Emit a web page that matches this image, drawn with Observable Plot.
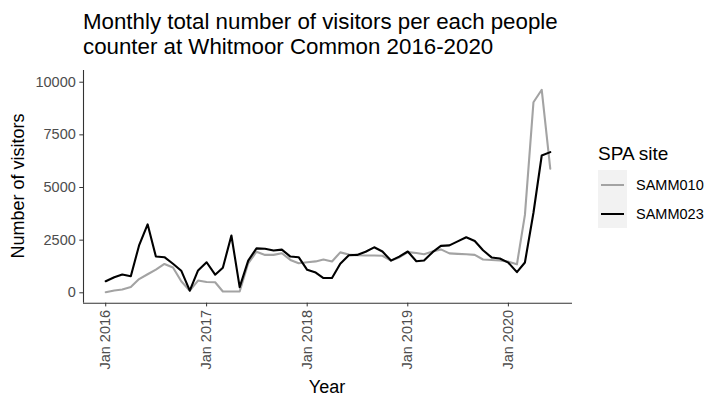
<!DOCTYPE html>
<html>
<head>
<meta charset="utf-8">
<script src="https://cdn.jsdelivr.net/npm/d3@7"></script>
<script src="https://cdn.jsdelivr.net/npm/@observablehq/plot@0.6"></script>
<style>
  body { margin: 0; background: #fff; font-family: "Liberation Sans", Arial, sans-serif; }
  #wrap { position: relative; width: 707px; height: 396px; overflow: hidden; background: #fff; }
  #title { position: absolute; left: 83px; top: 9px; font-size: 22.3px; line-height: 25px; color: #000; white-space: nowrap; }
  #chart { position: absolute; left: 0; top: 64px; }
  #ylab { position: absolute; left: 18px; top: 186px; transform: translate(-50%, -50%) rotate(-90deg); font-size: 18px; color: #000; white-space: nowrap; }
  #xlab { position: absolute; left: 327px; top: 377px; transform: translateX(-50%); font-size: 18px; color: #000; white-space: nowrap; }
  #legend { position: absolute; left: 598px; top: 143px; color: #000; }
  #legend .lt { font-size: 19px; line-height: 22px; margin-bottom: 5px; }
  #legend .row { display: flex; align-items: center; height: 29px; }
  #legend .key { width: 29px; height: 29px; background: #F2F2F2; display: flex; align-items: center; justify-content: center; }
  #legend .key span { display: block; width: 23px; height: 2px; }
  #legend .lab { font-size: 14.5px; margin-left: 9px; }
</style>
</head>
<body>
<div id="wrap">
  <div id="title">Monthly total number of visitors per each people<br>counter at Whitmoor Common 2016-2020</div>
  <div id="chart"></div>
  <div id="ylab">Number of visitors</div>
  <div id="xlab">Year</div>
  <div id="legend"></div>
</div>
<script>
// ---- data (monthly, Jan 2016 .. Jun 2020) ----
const startYear = 2016;
const nMonths = 54;
const sites = ["SAMM010", "SAMM023"];
const siteColors = ["#A3A3A3", "#000000"];
const samm010 = [30, 110, 160, 270, 650, 880, 1100, 1370, 1200, 550, 100, 580,
                 510, 500, 60, 60, 60, 1400, 1950, 1800, 1800, 1880, 1560, 1400,
                 1450, 1490, 1580, 1490, 1920, 1820, 1780, 1770, 1770, 1760, 1530, 1680,
                 1930, 1890, 1830, 1960, 2060, 1870, 1850, 1830, 1800, 1580, 1560, 1530,
                 1480, 1350, 3700, 9050, 9640, 5890];
const samm023 = [550, 740, 870, 790, 2250, 3250, 1720, 1690, 1380, 1050, 100, 1060,
                 1450, 860, 1190, 2720, 270, 1530, 2110, 2090, 2010, 2050, 1720, 1690,
                 1090, 960, 700, 700, 1380, 1780, 1800, 1950, 2160, 1960, 1530, 1720,
                 1960, 1500, 1530, 1930, 2230, 2250, 2440, 2640, 2460, 2020, 1680, 1630,
                 1430, 980, 1440, 3800, 6520, 6680];
const yTicks = [0, 2500, 5000, 7500, 10000];
const xTickYears = [2016, 2017, 2018, 2019, 2020];

// ---- build table ----
const dates = d3.range(nMonths).map(i => new Date(Date.UTC(startYear, i, 1)));
const rows = [];
[samm010, samm023].forEach((vals, s) => {
  vals.forEach((v, i) => rows.push({date: dates[i], value: v, site: sites[s]}));
});

// ggplot-like 5% expansion
const d0 = dates[0], d1 = dates[dates.length - 1];
const span = d1 - d0;
const xDomain = [new Date(+d0 - 0.05 * span), new Date(+d1 + 0.05 * span)];
const yDomain = [-494, 10556];

const chart = Plot.plot({
  width: 707,
  height: 332,
  marginTop: 6,
  marginLeft: 83,
  marginRight: 135,
  marginBottom: 93.3,
  style: { fontFamily: "'Liberation Sans', Arial, sans-serif", background: "transparent" },
  x: { type: "utc", domain: xDomain },
  y: { domain: yDomain },
  color: { domain: sites, range: siteColors },
  marks: [
    Plot.line(rows, { x: "date", y: "value", stroke: "site", z: "site", strokeWidth: 2.1, strokeLinejoin: "round" }),
    Plot.ruleX([xDomain[0]], { stroke: "#333", strokeWidth: 1.1 }),
    Plot.ruleY([yDomain[0]], { stroke: "#333", strokeWidth: 1.1 }),
    Plot.axisY({ ticks: yTicks, tickSize: 3.7, tickPadding: 4, fontSize: 14.5, fill: "#4D4D4D", stroke: "#333", label: null, tickFormat: d => String(d) }),
    Plot.axisX({ ticks: xTickYears.map(y => new Date(Date.UTC(y, 0, 1))), tickSize: 3.7, tickPadding: 3, tickRotate: -90,
                 fontSize: 14.5, fill: "#4D4D4D", stroke: "#333", label: null, tickFormat: d => "Jan " + d.getUTCFullYear() })
  ]
});
document.getElementById("chart").appendChild(chart);

// legend
const lg = document.getElementById("legend");
const lt = document.createElement("div"); lt.className = "lt"; lt.textContent = "SPA site"; lg.appendChild(lt);
sites.forEach((s, i) => {
  const r = document.createElement("div"); r.className = "row";
  const k = document.createElement("div"); k.className = "key";
  const sp = document.createElement("span"); sp.style.background = siteColors[i]; k.appendChild(sp);
  const l = document.createElement("div"); l.className = "lab"; l.textContent = s;
  r.appendChild(k); r.appendChild(l); lg.appendChild(r);
});
</script>
</body>
</html>
